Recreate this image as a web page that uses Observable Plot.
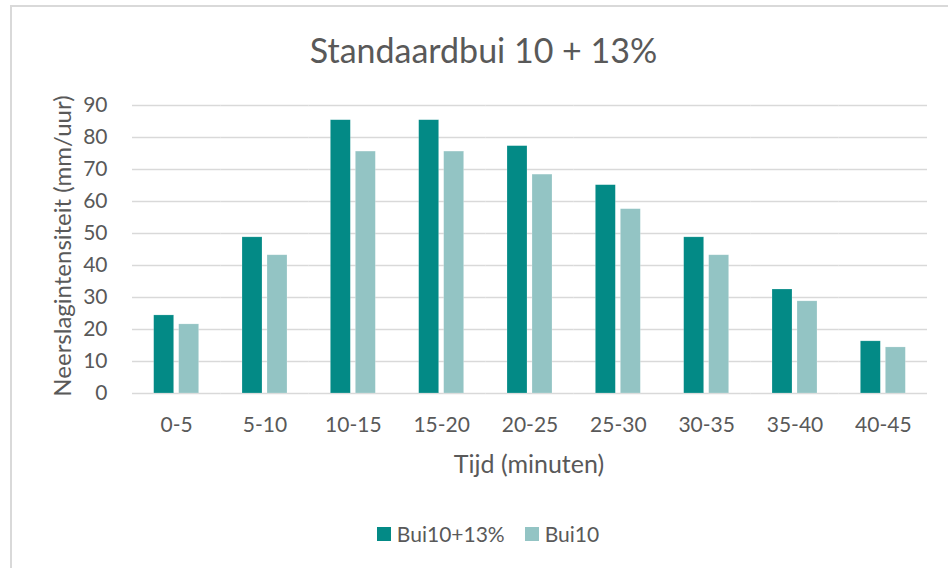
<!DOCTYPE html>
<html>
<head>
<meta charset="utf-8">
<script src="https://cdn.jsdelivr.net/npm/d3@7"></script>
<script src="https://cdn.jsdelivr.net/npm/@observablehq/plot@0.6"></script>
<style>
  html, body { margin: 0; padding: 0; background: #fff; }
  body { width: 948px; height: 568px; position: relative; overflow: hidden; font-family: Lato, "Open Sans", sans-serif; color: #595959; }
  #frame { position: absolute; left: 10px; top: 5px; width: 1000px; height: 700px; border-left: 2px solid #d9d9d9; border-top: 2px solid #d9d9d9; }
  #title { position: absolute; left: 0; top: 29px; width: 967px; text-align: center; font-size: 34px; line-height: 42px; color: #595959; }
  #chart { position: absolute; left: 0; top: 80px; }
  #ylabel { position: absolute; left: 62px; top: 246px; transform: translate(-50%, -50%) rotate(-90deg); white-space: nowrap; font-size: 24px; line-height: 28px; }
  #xlabel { position: absolute; left: 0; width: 1058px; top: 449px; text-align: center; font-size: 25px; line-height: 28px; }
  #legend { position: absolute; left: 0; width: 976px; top: 520px; display: flex; justify-content: center; align-items: center; font-size: 21px; line-height: 28px; }
  .item { display: flex; align-items: center; margin: 0 10px; }
  .sw { width: 14px; height: 14px; margin-right: 6px; }
</style>
</head>
<body>
<div id="frame"></div>
<div id="title">Standaardbui 10 + 13%</div>
<div id="ylabel">Neerslagintensiteit (mm/uur)</div>
<div id="chart"></div>
<div id="xlabel">Tijd (minuten)</div>
<div id="legend"></div>
<script>
const categories = ["0-5", "5-10", "10-15", "15-20", "20-25", "25-30", "30-35", "35-40", "40-45"];
const seriesNames = ["Bui10+13%", "Bui10"];
const bui10Plus13 = [24.4, 48.8, 85.4, 85.4, 77.3, 65.1, 48.8, 32.5, 16.3];
const bui10 = [21.6, 43.2, 75.6, 75.6, 68.4, 57.6, 43.2, 28.8, 14.4];
const yTicks = [0, 10, 20, 30, 40, 50, 60, 70, 80, 90];
const colors = ["#038a86", "#93c4c4"];

const rows = [];
categories.forEach((c, i) => {
  rows.push({cat: c, series: seriesNames[0], value: bui10Plus13[i]});
  rows.push({cat: c, series: seriesNames[1], value: bui10[i]});
});

const chart = Plot.plot({
  width: 948,
  height: 410,
  marginTop: 25,
  marginBottom: 97,
  marginLeft: 132,
  marginRight: 21,
  style: {fontFamily: "Lato, 'Open Sans', sans-serif", fontSize: "21px", color: "#595959", background: "transparent"},
  fx: {domain: categories, paddingInner: 0, paddingOuter: 0, round: false, axis: "bottom", tickSize: 0, tickPadding: 24, label: null},
  x: {domain: seriesNames, paddingInner: 0.2, paddingOuter: 0.8667, round: false, axis: null},
  y: {domain: [0, 90], ticks: yTicks, tickSize: 0, tickPadding: 25, label: null},
  color: {domain: seriesNames, range: colors},
  marks: [
    Plot.ruleY(yTicks, {stroke: "#d9d9d9", strokeWidth: 1.3}),
    Plot.barY(rows, {fx: "cat", x: "series", y: "value", fill: "series", stroke: "#ffffff", strokeOpacity: 0.35, strokeWidth: 0.6})
  ]
});
document.getElementById("chart").appendChild(chart);

const legend = document.getElementById("legend");
seriesNames.forEach((s, i) => {
  const item = document.createElement("div");
  item.className = "item";
  const sw = document.createElement("div");
  sw.className = "sw";
  sw.style.background = colors[i];
  const t = document.createElement("span");
  t.textContent = s;
  item.appendChild(sw);
  item.appendChild(t);
  legend.appendChild(item);
});
</script>
</body>
</html>
